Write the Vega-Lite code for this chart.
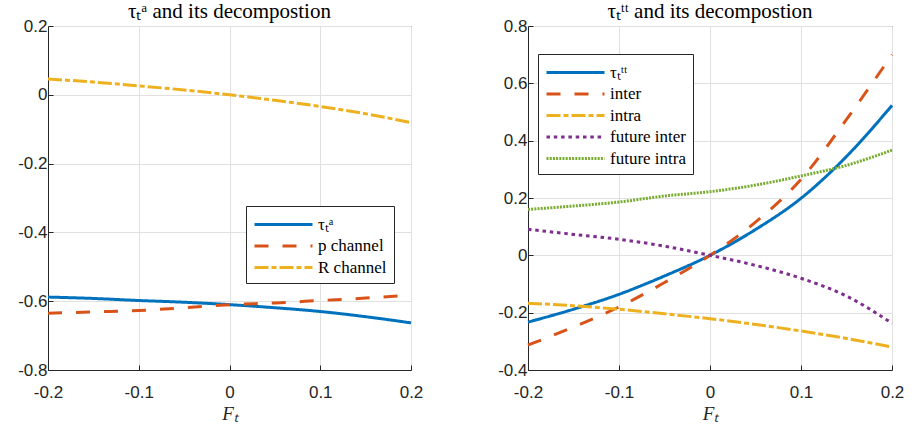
{
  "$schema": "https://vega.github.io/schema/vega-lite/v6.json",
  "background": "white",
  "padding": {"left": 17, "top": 0, "right": 5, "bottom": 5},
  "datasets": {
    "left": [
      {"x": -0.2, "y": -0.588, "series": "τₜᵃ"},
      {"x": -0.15, "y": -0.592, "series": "τₜᵃ"},
      {"x": -0.1, "y": -0.598, "series": "τₜᵃ"},
      {"x": -0.05, "y": -0.603, "series": "τₜᵃ"},
      {"x": 0, "y": -0.61, "series": "τₜᵃ"},
      {"x": 0.05, "y": -0.619, "series": "τₜᵃ"},
      {"x": 0.1, "y": -0.63, "series": "τₜᵃ"},
      {"x": 0.15, "y": -0.645, "series": "τₜᵃ"},
      {"x": 0.2, "y": -0.663, "series": "τₜᵃ"},
      {"x": -0.2, "y": -0.635, "series": "p channel"},
      {"x": -0.15, "y": -0.631, "series": "p channel"},
      {"x": -0.1, "y": -0.627, "series": "p channel"},
      {"x": -0.05, "y": -0.619, "series": "p channel"},
      {"x": 0, "y": -0.61, "series": "p channel"},
      {"x": 0.05, "y": -0.605, "series": "p channel"},
      {"x": 0.1, "y": -0.598, "series": "p channel"},
      {"x": 0.15, "y": -0.591, "series": "p channel"},
      {"x": 0.2, "y": -0.582, "series": "p channel"},
      {"x": -0.2, "y": 0.046, "series": "R channel"},
      {"x": -0.15, "y": 0.037, "series": "R channel"},
      {"x": -0.1, "y": 0.026, "series": "R channel"},
      {"x": -0.05, "y": 0.014, "series": "R channel"},
      {"x": 0, "y": 0.0, "series": "R channel"},
      {"x": 0.05, "y": -0.016, "series": "R channel"},
      {"x": 0.1, "y": -0.034, "series": "R channel"},
      {"x": 0.15, "y": -0.055, "series": "R channel"},
      {"x": 0.2, "y": -0.081, "series": "R channel"}
    ],
    "right": [
      {"x": -0.2, "y": -0.233, "series": "τₜᵗᵗ"},
      {"x": -0.15, "y": -0.188, "series": "τₜᵗᵗ"},
      {"x": -0.1, "y": -0.136, "series": "τₜᵗᵗ"},
      {"x": -0.05, "y": -0.072, "series": "τₜᵗᵗ"},
      {"x": 0, "y": 0.0, "series": "τₜᵗᵗ"},
      {"x": 0.05, "y": 0.09, "series": "τₜᵗᵗ"},
      {"x": 0.1, "y": 0.199, "series": "τₜᵗᵗ"},
      {"x": 0.15, "y": 0.345, "series": "τₜᵗᵗ"},
      {"x": 0.2, "y": 0.523, "series": "τₜᵗᵗ"},
      {"x": -0.2, "y": -0.313, "series": "inter"},
      {"x": -0.15, "y": -0.25, "series": "inter"},
      {"x": -0.1, "y": -0.18, "series": "inter"},
      {"x": -0.05, "y": -0.095, "series": "inter"},
      {"x": 0, "y": 0.0, "series": "inter"},
      {"x": 0.05, "y": 0.116, "series": "inter"},
      {"x": 0.1, "y": 0.265, "series": "inter"},
      {"x": 0.15, "y": 0.474, "series": "inter"},
      {"x": 0.2, "y": 0.7, "series": "inter"},
      {"x": -0.2, "y": -0.167, "series": "intra"},
      {"x": -0.15, "y": -0.176, "series": "intra"},
      {"x": -0.1, "y": -0.188, "series": "intra"},
      {"x": -0.05, "y": -0.204, "series": "intra"},
      {"x": 0, "y": -0.221, "series": "intra"},
      {"x": 0.05, "y": -0.241, "series": "intra"},
      {"x": 0.1, "y": -0.264, "series": "intra"},
      {"x": 0.15, "y": -0.29, "series": "intra"},
      {"x": 0.2, "y": -0.32, "series": "intra"},
      {"x": -0.2, "y": 0.091, "series": "future inter"},
      {"x": -0.15, "y": 0.073, "series": "future inter"},
      {"x": -0.1, "y": 0.056, "series": "future inter"},
      {"x": -0.05, "y": 0.032, "series": "future inter"},
      {"x": 0, "y": 0.0, "series": "future inter"},
      {"x": 0.05, "y": -0.035, "series": "future inter"},
      {"x": 0.1, "y": -0.08, "series": "future inter"},
      {"x": 0.15, "y": -0.142, "series": "future inter"},
      {"x": 0.2, "y": -0.237, "series": "future inter"},
      {"x": -0.2, "y": 0.16, "series": "future intra"},
      {"x": -0.15, "y": 0.172, "series": "future intra"},
      {"x": -0.1, "y": 0.186, "series": "future intra"},
      {"x": -0.05, "y": 0.207, "series": "future intra"},
      {"x": 0, "y": 0.222, "series": "future intra"},
      {"x": 0.05, "y": 0.245, "series": "future intra"},
      {"x": 0.1, "y": 0.277, "series": "future intra"},
      {"x": 0.15, "y": 0.314, "series": "future intra"},
      {"x": 0.2, "y": 0.367, "series": "future intra"}
    ]
  },
  "config": {
    "view": {"stroke": "#262626", "strokeWidth": 1},
    "axis": {
      "grid": true, "gridColor": "#e0e0e0", "domainColor": "#262626", "tickColor": "#262626",
      "tickSize": -5, "labelFont": "Liberation Sans", "labelFontSize": 17, "labelColor": "#262626",
      "titleFont": "Liberation Serif", "titleFontStyle": "italic", "titleFontWeight": "normal",
      "titleFontSize": 19, "titleColor": "#262626", "labelFlush": false, "labelOverlap": false
    },
    "axisX": {"labelPadding": 19, "titlePadding": 4},
    "axisY": {"labelPadding": 6},
    "legend": {
      "orient": "none", "strokeColor": "#262626", "fillColor": "white", "padding": 7,
      "symbolType": "M-1,0H4.8", "symbolSize": 400, "symbolStrokeWidth": 3,
      "labelFont": "Liberation Serif", "labelFontSize": 17, "labelColor": "black",
      "rowPadding": 1.5, "labelOffset": 42
    }
  },
  "resolve": {
    "scale": {"color": "independent", "strokeDash": "independent", "x": "independent", "y": "independent"},
    "legend": {"color": "independent", "strokeDash": "independent"}
  },
  "bounds": "flush",
  "spacing": 117,
  "hconcat": [
    {
      "width": 363, "height": 344,
      "title": {"text": "τₜᵃ and its decompostion", "font": "Liberation Serif", "fontSize": 21, "fontWeight": "normal", "color": "black", "offset": -5},
      "data": {"name": "left"},
      "mark": {"type": "line", "strokeWidth": 3, "interpolate": "monotone"},
      "encoding": {
        "x": {"field": "x", "type": "quantitative", "scale": {"domain": [-0.2, 0.2], "nice": false},
          "axis": {"values": [-0.2, -0.1, 0, 0.1, 0.2], "title": "Fₜ", "labelExpr": "replace(format(datum.value, '.1~f'), '−', '-')"}},
        "y": {"field": "y", "type": "quantitative", "scale": {"domain": [-0.8, 0.2], "nice": false},
          "axis": {"values": [-0.8, -0.6, -0.4, -0.2, 0, 0.2], "title": null, "labelExpr": "replace(format(datum.value, '.1~f'), '−', '-')"}},
        "color": {"field": "series", "type": "nominal",
          "scale": {"domain": ["τₜᵃ", "p channel", "R channel"], "range": ["#0072BD", "#D95319", "#EDB120"]},
          "legend": {"title": null, "legendX": 198, "legendY": 180}},
        "strokeDash": {"field": "series", "type": "nominal",
          "scale": {"domain": ["τₜᵃ", "p channel", "R channel"], "range": [[1, 0], [14, 14], [14, 3, 5, 3]]},
          "legend": null}
      }
    },
    {
      "width": 364, "height": 344,
      "title": {"text": "τₜᵗᵗ and its decompostion", "font": "Liberation Serif", "fontSize": 21, "fontWeight": "normal", "color": "black", "offset": -5},
      "data": {"name": "right"},
      "mark": {"type": "line", "strokeWidth": 3, "interpolate": "monotone"},
      "encoding": {
        "x": {"field": "x", "type": "quantitative", "scale": {"domain": [-0.2, 0.2], "nice": false},
          "axis": {"values": [-0.2, -0.1, 0, 0.1, 0.2], "title": "Fₜ", "labelExpr": "replace(format(datum.value, '.1~f'), '−', '-')"}},
        "y": {"field": "y", "type": "quantitative", "scale": {"domain": [-0.4, 0.8], "nice": false},
          "axis": {"values": [-0.4, -0.2, 0, 0.2, 0.4, 0.6, 0.8], "title": null, "labelExpr": "replace(format(datum.value, '.1~f'), '−', '-')"}},
        "color": {"field": "series", "type": "nominal",
          "scale": {"domain": ["τₜᵗᵗ", "inter", "intra", "future inter", "future intra"], "range": ["#0072BD", "#D95319", "#EDB120", "#7E2F8E", "#77AC30"]},
          "legend": {"title": null, "legendX": 10, "legendY": 28}},
        "strokeDash": {"field": "series", "type": "nominal",
          "scale": {"domain": ["τₜᵗᵗ", "inter", "intra", "future inter", "future intra"], "range": [[1, 0], [14, 14], [14, 3, 5, 3], [3.5, 3.8], [2, 1.2]]},
          "legend": null}
      }
    }
  ]
}
